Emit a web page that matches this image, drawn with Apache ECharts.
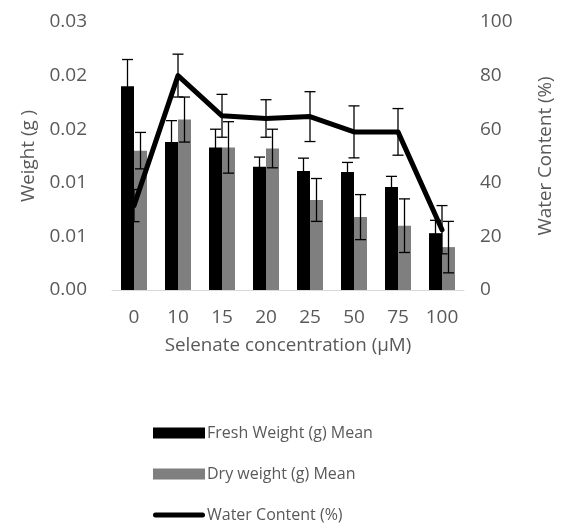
<!DOCTYPE html>
<html>
<head>
<meta charset="utf-8">
<script src="https://cdn.jsdelivr.net/npm/echarts@6/dist/echarts.min.js"></script>
<style>
  html, body { margin: 0; padding: 0; background: #fff; }
  #chart { width: 566px; height: 531px; }
</style>
</head>
<body>
<div id="chart"></div>
<script>
// Selenate treatments (µM)
const categories = ['0', '10', '15', '20', '25', '50', '75', '100'];

// Fresh weight (g): mean and error
const freshMean = [0.0190, 0.0138, 0.0133, 0.0115, 0.0111, 0.0110, 0.0096, 0.0053];
const freshErr  = [0.0025, 0.0020, 0.0017, 0.0009, 0.0012, 0.0009, 0.0010, 0.0012];

// Dry weight (g): mean and error
const dryMean = [0.0130, 0.0159, 0.0133, 0.0132, 0.0084, 0.0068, 0.0060, 0.0040];
const dryErr  = [0.0017, 0.0021, 0.0024, 0.0018, 0.0020, 0.0021, 0.0025, 0.0024];

// Water content (%): mean and error
const waterMean = [31.5, 80, 65, 64, 64.7, 59, 59, 22.5];
const waterErr  = [6, 8, 8, 7, 9.3, 9.7, 8.7, 9];

const textColor = '#595959';
const fontFamily = '"Open Sans", "Noto Sans", sans-serif';
const barWidth = 13;

// two-decimal labels with half-up rounding (0.015 -> 0.02)
function twoDecimals(v) {
  const thousandths = Math.round(v * 1000);
  return (Math.round(thousandths / 10) / 100).toFixed(2);
}

function errorBars(offset) {
  return function (params, api) {
    const i = api.value(0);
    const v = api.value(1);
    const e = api.value(2);
    const top = api.coord([i, v + e]);
    const bot = api.coord([i, v - e]);
    const x = top[0] + offset;
    const cap = 5.5;
    const style = { stroke: '#000', lineWidth: 1.3 };
    return {
      type: 'group',
      children: [
        { type: 'line', shape: { x1: x, y1: top[1], x2: x, y2: bot[1] }, style },
        { type: 'line', shape: { x1: x - cap, y1: top[1], x2: x + cap, y2: top[1] }, style },
        { type: 'line', shape: { x1: x - cap, y1: bot[1], x2: x + cap, y2: bot[1] }, style }
      ]
    };
  };
}

const chart = echarts.init(document.getElementById('chart'), null, { renderer: 'canvas' });

chart.setOption({
  animation: false,
  backgroundColor: '#fff',
  textStyle: { fontFamily: fontFamily },
  grid: { left: 112, right: 102, top: 22, bottom: 241, containLabel: false },
  legend: {
    orient: 'vertical',
    left: 148,
    top: 420,
    itemWidth: 52,
    itemHeight: 11,
    itemGap: 25,
    textStyle: { color: textColor, fontSize: 16, fontFamily: fontFamily, padding: [0, 0, 0, -3] },
    data: [
      { name: 'Fresh Weight (g) Mean', icon: 'rect' },
      { name: 'Dry weight (g) Mean', icon: 'rect' },
      { name: 'Water Content (%)', icon: 'path://M2.5,0 L49.5,0 A2.5,2.5 0 0 1 49.5,5 L2.5,5 A2.5,2.5 0 0 1 2.5,0 Z' }
    ]
  },
  xAxis: {
    type: 'category',
    data: categories,
    boundaryGap: true,
    name: 'Selenate concentration (μM)',
    nameLocation: 'middle',
    nameGap: 46,
    nameTextStyle: { color: textColor, fontSize: 18.8, fontFamily: fontFamily },
    axisLine: { show: true, lineStyle: { color: '#d9d9d9', width: 1 } },
    axisTick: { show: false },
    axisLabel: { color: textColor, fontSize: 19, margin: 18, fontFamily: fontFamily }
  },
  yAxis: [
    {
      type: 'value',
      min: 0,
      max: 0.025,
      interval: 0.005,
      name: 'Weight (g )',
      nameLocation: 'middle',
      nameRotate: 90,
      nameGap: 72,
      nameTextStyle: { color: textColor, fontSize: 18.8, fontFamily: fontFamily },
      axisLine: { show: false },
      axisTick: { show: false },
      splitLine: { show: false },
      axisLabel: {
        color: textColor, fontSize: 19, margin: 25, fontFamily: fontFamily,
        formatter: twoDecimals
      }
    },
    {
      type: 'value',
      min: 0,
      max: 100,
      interval: 20,
      name: 'Water Content (%)',
      nameLocation: 'middle',
      nameRotate: 90,
      nameGap: 72,
      nameTextStyle: { color: textColor, fontSize: 18.8, fontFamily: fontFamily },
      axisLine: { show: false },
      axisTick: { show: false },
      splitLine: { show: false },
      axisLabel: { color: textColor, fontSize: 19, margin: 16, fontFamily: fontFamily }
    }
  ],
  series: [
    {
      name: 'Fresh Weight (g) Mean',
      type: 'bar',
      yAxisIndex: 0,
      barWidth: barWidth,
      barGap: '0%',
      itemStyle: { color: '#000000' },
      data: freshMean,
      z: 2
    },
    {
      name: 'Dry weight (g) Mean',
      type: 'bar',
      yAxisIndex: 0,
      barWidth: barWidth,
      barGap: '0%',
      itemStyle: { color: '#7f7f7f' },
      data: dryMean,
      z: 2
    },
    {
      name: 'freshErr',
      type: 'custom',
      yAxisIndex: 0,
      renderItem: errorBars(-barWidth / 2),
      data: freshMean.map((v, i) => [i, v, freshErr[i]]),
      z: 3,
      silent: true
    },
    {
      name: 'dryErr',
      type: 'custom',
      yAxisIndex: 0,
      renderItem: errorBars(barWidth / 2),
      data: dryMean.map((v, i) => [i, v, dryErr[i]]),
      z: 3,
      silent: true
    },
    {
      name: 'waterErr',
      type: 'custom',
      yAxisIndex: 1,
      renderItem: errorBars(0),
      data: waterMean.map((v, i) => [i, v, waterErr[i]]),
      z: 3,
      silent: true
    },
    {
      name: 'Water Content (%)',
      type: 'line',
      yAxisIndex: 1,
      data: waterMean,
      symbol: 'none',
      lineStyle: { color: '#000', width: 5, cap: 'round', join: 'round' },
      itemStyle: { color: '#000' },
      z: 4
    }
  ]
});
</script>
</body>
</html>
